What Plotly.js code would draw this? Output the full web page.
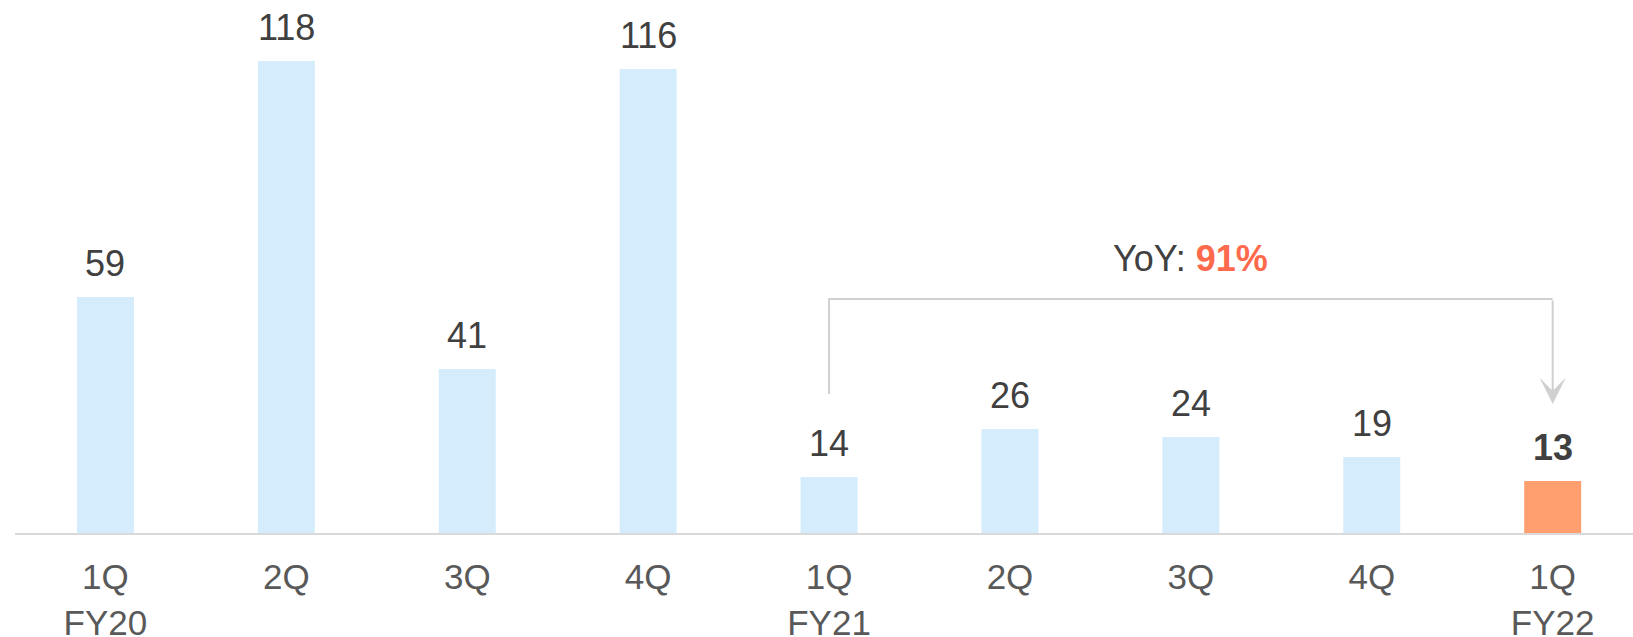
<!DOCTYPE html>
<html>
<head>
<meta charset="utf-8">
<script src="https://cdn.plot.ly/plotly-3.0.1.min.js"></script>
<style>html,body{margin:0;padding:0;background:#fff;}#chart{width:1633px;height:637px;}</style>
</head>
<body>
<div id="chart"></div>
<script>
var quarters = ['1Q', '2Q', '3Q', '4Q', '1Q', '2Q', '3Q', '4Q', '1Q'];
var years = ['FY20', '', '', '', 'FY21', '', '', '', 'FY22'];
var values = [59, 118, 41, 116, 14, 26, 24, 19, 13];
var highlightIndex = 8;
var yoyFrom = 4, yoyTo = 8;
var yoyLabel = 'YoY: ';
var yoyValue = '91%';

var FONT = '"Liberation Sans", Arial, Helvetica, sans-serif';
var xs = values.map(function (v, i) { return i; });
var tickText = quarters.map(function (q, i) { return years[i] ? q + '<br>' + years[i] : q; });
var colors = values.map(function (v, i) { return i === highlightIndex ? '#ff9e6e' : '#d5ecfc'; });

var annotations = values.map(function (v, i) {
  return {
    x: i, y: v, xref: 'x', yref: 'y',
    text: i === highlightIndex ? '<b>' + v + '</b>' : String(v),
    showarrow: false, yanchor: 'bottom', xanchor: 'center', yshift: 11,
    font: {family: FONT, size: 36, color: '#404040'}
  };
});

var bracketTop = 58.5, bracketStart = 34.75, arrowTip = 32.25;

annotations.push({
  x: yoyTo, y: arrowTip, xref: 'x', yref: 'y',
  ax: yoyTo, ay: bracketTop, axref: 'x', ayref: 'y',
  showarrow: true, arrowhead: 3, arrowsize: 2.2, arrowwidth: 2, arrowcolor: '#d0d0d0',
  text: ''
});
annotations.push({
  x: (yoyFrom + yoyTo) / 2, y: bracketTop, xref: 'x', yref: 'y',
  text: yoyLabel + '<b><span style="color:#ff6a4d">' + yoyValue + '</span></b>',
  showarrow: false, yanchor: 'bottom', xanchor: 'center', yshift: 18,
  font: {family: FONT, size: 36, color: '#404040'}
});

var shapes = [{
  type: 'path', xref: 'x', yref: 'y',
  path: 'M ' + yoyFrom + ',' + bracketStart + ' L ' + yoyFrom + ',' + bracketTop + ' L ' + yoyTo + ',' + bracketTop,
  line: {color: '#d0d0d0', width: 2}
}];

var data = [{
  type: 'bar', x: xs, y: values, width: 0.315,
  marker: {color: colors, line: {width: 0}},
  hoverinfo: 'skip'
}];

var layout = {
  width: 1633, height: 637,
  margin: {l: 15, r: 0, t: 0, b: 104, pad: 0},
  paper_bgcolor: '#ffffff', plot_bgcolor: '#ffffff',
  showlegend: false,
  xaxis: {
    range: [-0.5, 8.444], tickmode: 'array', tickvals: xs, ticktext: tickText,
    showline: true, linecolor: '#d9d9d9', linewidth: 2, showgrid: false, zeroline: false,
    ticks: '', ticklabelstandoff: 12,
    tickfont: {family: FONT, size: 35, color: '#595959'}, fixedrange: true
  },
  yaxis: {range: [0, 133.25], visible: false, showgrid: false, zeroline: false, fixedrange: true},
  annotations: annotations,
  shapes: shapes
};

Plotly.newPlot('chart', data, layout, {displayModeBar: false, staticPlot: true});
</script>
</body>
</html>
